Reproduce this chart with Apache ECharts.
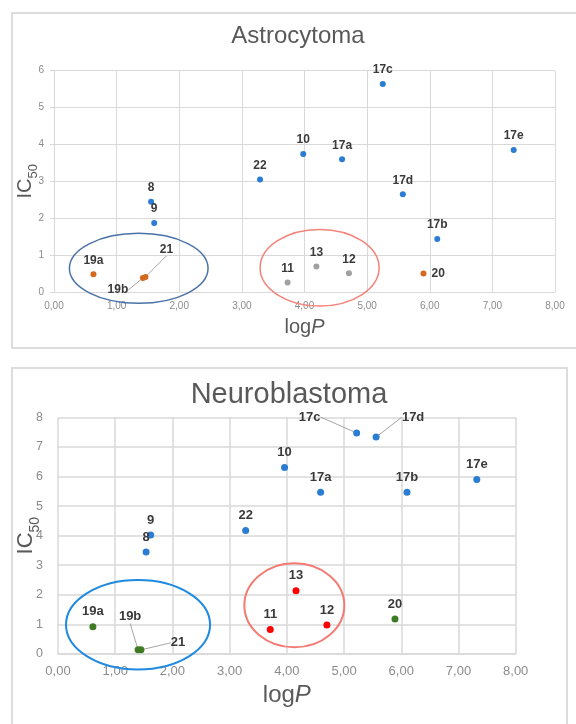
<!DOCTYPE html>
<html>
<head>
<meta charset="utf-8">
<script src="https://cdn.jsdelivr.net/npm/echarts@6/dist/echarts.min.js"></script>
<style>
html,body{margin:0;padding:0;background:#fff;}
#c{width:576px;height:724px;}
</style>
</head>
<body>
<div id="c"></div>
<script>
// ---------- DATA ----------
const xTickLabels = ['0,00','1,00','2,00','3,00','4,00','5,00','6,00','7,00','8,00'];

// Astrocytoma
const astroNames = ['8','9','10','11','12','13','17a','17b','17c','17d','17e','19a','19b','20','21','22'];
const astroLogP  = [1.55,1.60,3.98,3.73,4.71,4.19,4.60,6.12,5.25,5.57,7.34,0.63,1.42,5.90,1.46,3.29];
const astroIC50  = [2.45,1.87,3.74,0.26,0.51,0.69,3.60,1.44,5.64,2.65,3.85,0.48,0.38,0.50,0.41,3.05];
const astroGroup = ['a','a','a','c','c','c','a','a','a','a','a','b','b','b','b','a'];

// Neuroblastoma
const neuroNames = ['8','9','10','11','12','13','17a','17b','17c','17d','17e','19a','19b','20','21','22'];
const neuroLogP  = [1.54,1.62,3.96,3.71,4.70,4.16,4.59,6.10,5.22,5.56,7.32,0.61,1.40,5.89,1.45,3.28];
const neuroIC50  = [3.45,4.02,6.30,0.83,0.98,2.14,5.47,5.47,7.47,7.33,5.90,0.92,0.14,1.18,0.14,4.17];
const neuroGroup = ['a','a','a','c','c','c','a','a','a','a','a','b','b','b','b','a'];

// Highlight ellipses (data units: centre logP, centre IC50, half-width, half-height)
const astroEllipses = [[1.353,0.642,1.107,0.949],[4.241,0.659,0.950,1.038]];
const neuroEllipses = [[1.399,0.990,1.259,1.510],[4.131,1.645,0.874,1.419]];

// ---------- STYLE ----------
const FONT = '"Liberation Sans", Arial, sans-serif';
const astroColors = {a:'#2b7cd3', b:'#d2691e', c:'#a0a0a0'};
const neuroColors = {a:'#2b7cd3', b:'#3f7a25', c:'#ff0000'};
const astroEllColors = ['#4a72a8','#f4837b'];
const neuroEllColors = ['#1f8ae0','#f47a72'];
// label offsets in px relative to default 'top' position
const astroLabelMove = {'21':[21,-13], '19b':[-25,26]};
const astroLabelRight = {'20':true};
const neuroLabelMove = {'19b':[-8,-18], '21':[37,8], '17c':[-47,-1], '17d':[37,-5]};

function buildSeries(names, xs, ys, groups, colors, gridIdx, moves, rights, symSize, fontSize) {
  const keys = Object.keys(colors);
  return keys.map(k => {
    const data = [];
    names.forEach((n,i) => {
      if (groups[i] !== k) return;
      const item = {name:n, value:[xs[i], ys[i]]};
      if (moves[n]) item.labelLine = {show:true, lineStyle:{color:'#a6a6a6', width:1}};
      if (rights && rights[n]) item.label = {position:'right'};
      data.push(item);
    });
    return {
      type:'scatter',
      xAxisIndex:gridIdx, yAxisIndex:gridIdx,
      symbolSize:symSize,
      itemStyle:{color:colors[k], opacity:1},
      data:data,
      label:{show:true, position:'top', distance:5, formatter:'{b}',
             fontFamily:FONT, fontWeight:'bold', fontSize:fontSize, color:'#3a3a3a'},
      labelLine:{show:false},
      labelLayout:function(p){
        const o = moves[p.text];
        return o ? {dx:o[0], dy:o[1]} : {};
      },
      emphasis:{disabled:true},
      animation:false
    };
  });
}

const chart = echarts.init(document.getElementById('c'), null, {renderer:'canvas'});

function xAxisCfg(gi, fs, nameFs, nameGap, margin, splitW){
  return {
    gridIndex:gi, type:'value', min:0, max:8, interval:1,
    axisLine:{show:true, lineStyle:{color:'#d9d9d9', width:splitW}},
    axisTick:{show:false},
    splitLine:{show:true, lineStyle:{color:'#d9d9d9', width:splitW}},
    axisLabel:{color:'#8c8c8c', fontSize:fs, fontFamily:FONT, margin:margin,
      formatter:v => xTickLabels[Math.round(v)]},
    name:'{n|log}{i|P}', nameLocation:'middle', nameGap:nameGap, nameMoveOverlap:false,
    nameTextStyle:{color:'#595959', fontFamily:FONT,
      rich:{n:{fontSize:nameFs, color:'#595959', fontFamily:FONT},
            i:{fontSize:nameFs, color:'#595959', fontStyle:'italic', fontFamily:FONT}}}
  };
}
function yAxisCfg(gi, max, fs, nameFs, subFs, nameGap, margin, tick, splitW){
  return {
    gridIndex:gi, type:'value', min:0, max:max, interval:1,
    axisLine:{show:false},
    axisTick:{show:tick, length:4, lineStyle:{color:'#d9d9d9'}},
    splitLine:{show:true, lineStyle:{color:'#d9d9d9', width:splitW}},
    axisLabel:{color:'#8c8c8c', fontSize:fs, fontFamily:FONT, margin:margin},
    name:'{a|IC}{b|50}', nameLocation:'middle', nameGap:nameGap, nameMoveOverlap:false,
    nameTextStyle:{color:'#595959', fontFamily:FONT,
      rich:{a:{fontSize:nameFs, color:'#595959', fontFamily:FONT, verticalAlign:'bottom', padding:[0,0,5,0]},
            b:{fontSize:subFs, color:'#595959', fontFamily:FONT, verticalAlign:'bottom'}}}
  };
}

const option = {
  backgroundColor:'#ffffff',
  animation:false,
  grid:[
    {left:54, top:70.7, width:501, height:221.3, outerBoundsMode:'none'},
    {left:58, top:417.3, width:457.7, height:236.7, outerBoundsMode:'none'}
  ],
  xAxis:[ xAxisCfg(0, 10, 20, 25, 9, 1), xAxisCfg(1, 13, 24, 29, 11, 1.5) ],
  yAxis:[ yAxisCfg(0, 6, 10, 20, 13, 14, 10, true, 1), yAxisCfg(1, 8, 12.5, 22, 14, 16, 15, false, 1.5) ],
  series:[].concat(
    buildSeries(astroNames, astroLogP, astroIC50, astroGroup, astroColors, 0, astroLabelMove, astroLabelRight, 6, 12),
    buildSeries(neuroNames, neuroLogP, neuroIC50, neuroGroup, neuroColors, 1, neuroLabelMove, null, 7, 13)
  )
};
chart.setOption(option);

function ellipseGraphics(list, colors, gi, lw){
  return list.map((e, i) => {
    const c = chart.convertToPixel({gridIndex:gi}, [e[0], e[1]]);
    const px = chart.convertToPixel({gridIndex:gi}, [e[0]+e[2], e[1]]);
    const py = chart.convertToPixel({gridIndex:gi}, [e[0], e[1]+e[3]]);
    return {type:'ellipse', silent:true, z:10,
      shape:{cx:c[0], cy:c[1], rx:Math.abs(px[0]-c[0]), ry:Math.abs(c[1]-py[1])},
      style:{fill:null, stroke:colors[i], lineWidth:lw}};
  });
}

chart.setOption({
  graphic:[
    {type:'rect', silent:true, z:-1, shape:{x:12, y:13, width:580, height:335},
      style:{fill:null, stroke:'#dcdcdc', lineWidth:2}},
    {type:'rect', silent:true, z:-1, shape:{x:12, y:368, width:555, height:380},
      style:{fill:null, stroke:'#dcdcdc', lineWidth:2}},
    {type:'text', silent:true, x:298, y:36,
      style:{text:'Astrocytoma', fontSize:24, fontFamily:FONT, fill:'#595959', align:'center', verticalAlign:'middle'}},
    {type:'text', silent:true, x:289, y:395,
      style:{text:'Neuroblastoma', fontSize:29, fontFamily:FONT, fill:'#595959', align:'center', verticalAlign:'middle'}}
  ].concat(ellipseGraphics(astroEllipses, astroEllColors, 0, 1.5),
           ellipseGraphics(neuroEllipses, neuroEllColors, 1, 2))
});
</script>
</body>
</html>
